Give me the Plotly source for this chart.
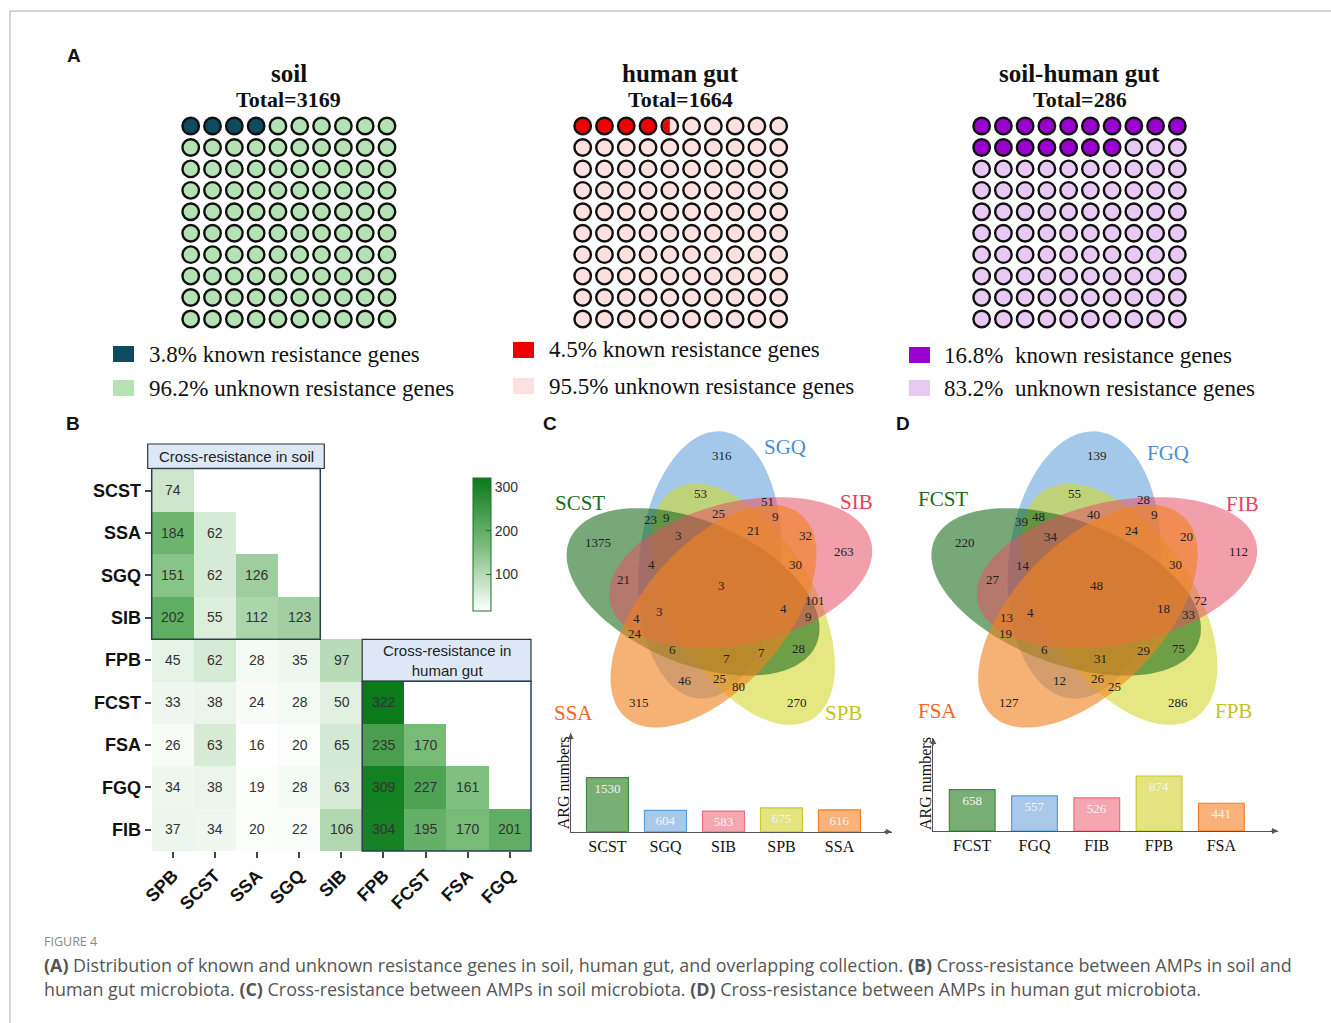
import numpy as np
import plotly.graph_objects as go

W, H = 1331, 1023

# ---------------- data ----------------
waffle_names = ["soil", "human gut", "soil-human gut"]
waffle_totals = [3169, 1664, 286]
known_pct = [3.8, 4.5, 16.8]

heat_rows = ["SCST", "SSA", "SGQ", "SIB", "FPB", "FCST", "FSA", "FGQ", "FIB"]
heat_cols = ["SPB", "SCST", "SSA", "SGQ", "SIB", "FPB", "FCST", "FSA", "FGQ"]
heat_values = [
    [74],
    [184, 62],
    [151, 62, 126],
    [202, 55, 112, 123],
    [45, 62, 28, 35, 97],
    [33, 38, 24, 28, 50, 322],
    [26, 63, 16, 20, 65, 235, 170],
    [34, 38, 19, 28, 63, 309, 227, 161],
    [37, 34, 20, 22, 106, 304, 195, 170, 201],
]

venn_soil_sets = ["SGQ", "SIB", "SPB", "SSA", "SCST"]
venn_soil_counts = [316, 53, 51, 9, 25, 23, 9, 21, 3, 32, 1375, 263, 4, 30, 21, 3,
                    101, 4, 9, 3, 4, 24, 6, 28, 7, 7, 46, 25, 80, 315, 270]
venn_gut_sets = ["FGQ", "FIB", "FPB", "FSA", "FCST"]
venn_gut_counts = [139, 55, 28, 9, 40, 39, 48, 24, 34, 20, 220, 112, 14, 30, 27, 48,
                   72, 18, 33, 4, 13, 19, 6, 75, 31, 29, 12, 26, 25, 127, 286]

bar_soil_names = ["SCST", "SGQ", "SIB", "SPB", "SSA"]
bar_soil_values = [1530, 604, 583, 675, 616]
bar_gut_names = ["FCST", "FGQ", "FIB", "FPB", "FSA"]
bar_gut_values = [658, 557, 526, 874, 441]

# ---------------- styling ----------------
SERIF = "Liberation Serif, Times New Roman, serif"
SANS = "Liberation Sans, Arial, sans-serif"
CAPTION_FONT = "Open Sans, Lato, sans-serif"

waffle_known_col = ["#0f4b5f", "#f00000", "#9a00cf"]
waffle_unknown_col = ["#b4e2b4", "#fde0e0", "#e7c9f4"]
waffle_xpx = [(179.8, 397.9), (571.8, 789.6), (970.8, 1188.2)]
waffle_ypx = (115.3, 329.7)
legend_sq_x = [113, 513, 909]
legend_sq_y = [(354, 388), (350, 386), (355, 388)]
legend_txt_x = [148, 548, 943]

# five-set Venn palette in set order: GQ, IB, PB, SA, CST
venn_fill = ["rgba(90,155,215,0.55)", "rgba(230,80,100,0.55)", "rgba(210,215,40,0.58)",
             "rgba(240,130,30,0.62)", "rgba(30,110,30,0.6)"]
venn_label_col = ["#4a8fd4", "#e8405c", "#c2c41e", "#f26522", "#1b6b1b"]
venn_draw_order = [0, 2, 4, 1, 3]
# bar colours in bar order: CST, GQ, IB, PB, SA
bar_fill = ["#79ae74", "#a9c9ea", "#f4a7b1", "#e3e47f", "#f8b27a"]
bar_line = ["#3f8a3f", "#5b9bd5", "#e8707f", "#c8ca2a", "#f07d22"]

# Venn geometry (pixels, y up, relative to the diagram centre)
VENN_O = (-1.7, -4.3)
VENN_D = 27.0
VENN_PSI0 = 112.0
VENN_TH0 = 85.0
VENN_A, VENN_B = 134.0, 71.0

# label anchors (pixel offsets from the diagram centre, y down)
venn_soil_pos = [(0, -130.7), (-21.7, -92.4), (45.6, -84.5), (53.6, -69.5), (-3.4, -72.4),
                 (-71.7, -66.4), (-55, -68.4), (31.6, -55.7), (-43.4, -50.7), (83.3, -50.7),
                 (-123.4, -43), (122.3, -34.7), (-70, -21.7), (73.3, -21.7), (-98.4, -6.7),
                 (0, 0), (93.3, 15), (61.6, 22.6), (86.6, 30.3), (-62.4, 26), (-85, 32.3),
                 (-86.7, 48), (-49, 63.3), (76.6, 62.6), (4.3, 72.6), (40, 67), (-36.7, 94.3),
                 (-2, 92.6), (17, 101), (-82.4, 117), (75.6, 117)]
venn_gut_pos = [(0, -130.7), (-22.4, -92.4), (46.3, -86), (57.6, -71), (-3.4, -71.4),
                (-75.4, -64), (-58.4, -69), (35, -55), (-45.4, -49.7), (90, -49.7),
                (-131.7, -43), (141.6, -34), (-74, -20.7), (78.3, -21.7), (-104, -6.4),
                (0, 0), (103.3, 15), (66.6, 22.6), (91.6, 28.6), (-66, 26.6), (-90, 31.6),
                (-91.7, 48), (-52.4, 63.3), (81.6, 62.6), (4, 72.6), (46.6, 65), (-37.7, 95),
                (1, 93), (18, 101), (-87.7, 117), (81.6, 117)]
venn_soil_label_xy = [(785, 446.7), (856.7, 501.7), (843.3, 713.3), (573.3, 713.3), (580, 502.7)]
venn_gut_label_xy = [(1167.7, 452.7), (1242.7, 504), (1233.3, 710.7), (937.3, 710.7), (943.3, 499.3)]


def fx(x):
    return x / W


def fy(y):
    return 1 - y / H


annotations = []
shapes = []


def note(x, y, text, size, color="#111", family=SERIF, xanchor="center",
         yanchor="middle", angle=0):
    annotations.append(dict(x=fx(x), y=fy(y), xref="paper", yref="paper", text=text,
                            showarrow=False, textangle=angle, borderpad=0,
                            font=dict(size=size, color=color, family=family),
                            xanchor=xanchor, yanchor=yanchor))


def rect(x0, y0, x1, y1, fill="rgba(0,0,0,0)", line="rgba(0,0,0,0)", width=1):
    shapes.append(dict(type="rect", xref="paper", yref="paper", x0=fx(x0), x1=fx(x1),
                       y0=fy(y1), y1=fy(y0), fillcolor=fill,
                       line=dict(color=line, width=width), layer="above"))


fig = go.Figure()
layout_axes = {}

# ---------------- A: waffle charts ----------------
for g in range(3):
    ax = g + 2
    n_half = int(round(known_pct[g] * 2))
    full, half = n_half // 2, n_half % 2
    cols = [waffle_known_col[g] if i < full else waffle_unknown_col[g] for i in range(100)]
    fig.add_trace(go.Scatter(
        x=[i % 10 for i in range(100)], y=[i // 10 for i in range(100)],
        mode="markers", xaxis=f"x{ax}", yaxis=f"y{ax}", hoverinfo="skip",
        marker=dict(size=16.5, color=cols, line=dict(color="#111", width=2.4)),
        showlegend=False))
    if half:
        t = np.linspace(np.pi / 2, 3 * np.pi / 2, 40)
        pts = [f"{7 * np.cos(a):.2f},{7 * np.sin(a):.2f}" for a in t]
        shapes.append(dict(type="path", xref=f"x{ax}", yref=f"y{ax}",
                           xsizemode="pixel", ysizemode="pixel",
                           xanchor=full % 10, yanchor=full // 10,
                           path="M" + " L".join(pts) + " Z",
                           fillcolor=waffle_known_col[g], line=dict(width=0),
                           layer="above"))
    x0, x1 = waffle_xpx[g]
    layout_axes[f"xaxis{ax}"] = dict(domain=[fx(x0), fx(x1)], range=[-0.5, 9.5],
                                     visible=False, fixedrange=True, automargin=False)
    layout_axes[f"yaxis{ax}"] = dict(domain=[fy(waffle_ypx[1]), fy(waffle_ypx[0])],
                                     range=[9.5, -0.5], visible=False, fixedrange=True,
                                     anchor=f"x{ax}", automargin=False)
    cx = (x0 + x1) / 2
    note(cx, 73, f"<b>{waffle_names[g]}</b>", 25)
    note(cx, 99, f"<b>Total={waffle_totals[g]}</b>", 22)
    sx = legend_sq_x[g]
    ky, uy = legend_sq_y[g]
    rect(sx, ky - 8, sx + 21, ky + 8, fill=waffle_known_col[g])
    rect(sx, uy - 8, sx + 21, uy + 8, fill=waffle_unknown_col[g])
    gap = "\u00a0 " if g == 2 else " "
    note(legend_txt_x[g], ky, f"{known_pct[g]}%{gap}known resistance genes", 23,
         xanchor="left")
    note(legend_txt_x[g], uy, f"{round(100 - known_pct[g], 1)}%{gap}unknown resistance genes", 23,
         xanchor="left")

# ---------------- B: cross-resistance heatmap ----------------
n = len(heat_rows)
z = [[heat_values[r][c] if c < len(heat_values[r]) else None for c in range(n)]
     for r in range(n)]
txt = [[str(v) if v is not None else "" for v in row] for row in z]
fig.add_trace(go.Heatmap(
    z=z, x=list(range(n)), y=list(range(n)), text=txt, texttemplate="%{text}",
    textfont=dict(size=14, color="#333", family=SANS), hoverinfo="skip",
    colorscale=[[0, "#ffffff"], [0.5, "#78bb78"], [1, "#0a7a1a"]],
    colorbar=dict(thickness=18, thicknessmode="pixels", len=133, lenmode="pixels",
                  x=fx(473), xanchor="left", y=fy(544.2), yanchor="middle",
                  xpad=0, ypad=0, outlinewidth=1, outlinecolor="#1f6f2a",
                  tickvals=[100, 200, 300], ticks="inside", ticklen=5,
                  tickcolor="#1f6f2a",
                  tickfont=dict(size=14, color="#333", family=SANS)),
    xaxis="x", yaxis="y"))
layout_axes["xaxis"] = dict(domain=[fx(151.7), fx(531)], range=[-0.5, n - 0.5],
                            tickvals=list(range(n)),
                            ticktext=[f"<b>{c}</b>" for c in heat_cols],
                            tickangle=-45, ticks="outside", ticklen=6, tickwidth=1.5,
                            tickcolor="#444", showgrid=False, zeroline=False,
                            showline=False, fixedrange=True, automargin=False,
                            tickfont=dict(size=18, color="#111", family=SANS))
layout_axes["yaxis"] = dict(domain=[fy(851), fy(469.3)], range=[n - 0.5, -0.5],
                            tickvals=list(range(n)),
                            ticktext=[f"<b>{r}</b>" for r in heat_rows],
                            ticks="outside", ticklen=6, tickwidth=1.5, tickcolor="#444",
                            showgrid=False, zeroline=False, showline=False,
                            fixedrange=True, automargin=False,
                            tickfont=dict(size=18, color="#111", family=SANS))
# group frames
rect(147.7, 444, 324.3, 468.5, fill="#dce8f6", line="#333", width=1.2)
note(236, 456.5, "Cross-resistance in soil", 15, color="#222", family=SANS)
rect(151.7, 468.5, 320.3, 639.3, line="#2d3e50", width=1.5)
rect(362.2, 639.3, 531, 681.3, fill="#dce8f6", line="#333", width=1.2)
note(446.6, 660.3, "Cross-resistance in<br>human gut", 15, color="#222", family=SANS)
rect(362.2, 681.3, 531, 851, line="#2d3e50", width=1.5)


# ---------------- C, D: five-set Venn diagrams ----------------
def venn(cx, cy, sx, sets, counts, pos, label_xy):
    t = np.linspace(0, 2 * np.pi, 160)
    for k in venn_draw_order:
        psi = np.radians(VENN_PSI0 - 72 * k)
        th = np.radians(VENN_TH0 - 72 * k)
        ex = VENN_O[0] + VENN_D * np.cos(psi)
        ey = VENN_O[1] + VENN_D * np.sin(psi)
        u, v = VENN_A * np.cos(t), VENN_B * np.sin(t)
        X = ex + u * np.cos(th) - v * np.sin(th)
        Y = ey + u * np.sin(th) + v * np.cos(th)
        xs, ys = fx(cx + sx * X), fy(cy - Y)
        path = "M" + " L".join(f"{a:.5f},{b:.5f}" for a, b in zip(xs, ys)) + " Z"
        shapes.append(dict(type="path", xref="paper", yref="paper", path=path,
                           fillcolor=venn_fill[k], line=dict(width=0), layer="below"))
    for val, (dx, dy) in zip(counts, pos):
        note(cx + dx, cy + dy, str(val), 13, color="#222")
    for k, name in enumerate(sets):
        note(label_xy[k][0], label_xy[k][1], name, 21, color=venn_label_col[k])


venn(721.7, 585.7, 1.0, venn_soil_sets, venn_soil_counts, venn_soil_pos, venn_soil_label_xy)
venn(1096.7, 585.7, 1.066, venn_gut_sets, venn_gut_counts, venn_gut_pos, venn_gut_label_xy)


# ---------------- bar charts under the Venn diagrams ----------------
def bars(ax, names, values, xpx, ypx, xr, ymax, width, ylab_x):
    fig.add_trace(go.Bar(
        x=list(range(len(names))), y=values, width=width, xaxis=f"x{ax}", yaxis=f"y{ax}",
        marker=dict(color=bar_fill, line=dict(color=bar_line, width=1.2)),
        text=[str(v) for v in values], textposition="inside", insidetextanchor="end",
        constraintext="none", textangle=0,
        textfont=dict(size=13, color="#f4f4f4", family=SERIF),
        hoverinfo="skip", showlegend=False))
    layout_axes[f"xaxis{ax}"] = dict(domain=[fx(xpx[0]), fx(xpx[1])], range=xr,
                                     anchor=f"y{ax}", tickvals=list(range(len(names))),
                                     ticktext=names, ticks="", showgrid=False,
                                     zeroline=False, showline=True, linecolor="#555",
                                     linewidth=1.2, fixedrange=True, automargin=False,
                                     tickfont=dict(size=16, color="#111", family=SERIF))
    layout_axes[f"yaxis{ax}"] = dict(domain=[fy(ypx[0]), fy(ypx[1])], range=[0, ymax],
                                     anchor=f"x{ax}", showticklabels=False, ticks="",
                                     showgrid=False, zeroline=False, showline=True,
                                     linecolor="#555", linewidth=1.2, fixedrange=True,
                                     automargin=False)
    for (x, y, axo, ayo) in [(xpx[1], ypx[0], -9, 0), (xpx[0], ypx[1], 0, 9)]:
        annotations.append(dict(x=fx(x), y=fy(y), xref="paper", yref="paper", text="",
                                showarrow=True, arrowhead=2, arrowsize=1, arrowwidth=1.2,
                                arrowcolor="#555", ax=axo, ay=ayo, standoff=0))
    note(ylab_x, 783, "ARG numbers", 16, angle=-90)


bars(5, bar_soil_names, bar_soil_values, (570.7, 891.7), (831.7, 733), [-0.634, 4.9],
     2796, 0.724, 563.3)
bars(6, bar_gut_names, bar_gut_values, (933.3, 1278), (831, 738), [-0.625, 4.91],
     1478, 0.734, 925)

# ---------------- panel letters, caption, frame ----------------
for letter, (x, y) in zip("ABCD", [(74, 56), (73, 423), (550, 423), (903, 423)]):
    note(x, y, f"<b>{letter}</b>", 19, family=SANS)

note(43, 941, "FIGURE 4", 12.5, color="#888", family=CAPTION_FONT, xanchor="left")
note(43, 965, "<b>(A)</b> Distribution of known and unknown resistance genes in soil, human gut, "
     "and overlapping collection. <b>(B)</b> Cross-resistance between AMPs in soil and",
     17.9, color="#555", family=CAPTION_FONT, xanchor="left")
note(43, 989, "human gut microbiota. <b>(C)</b> Cross-resistance between AMPs in soil "
     "microbiota. <b>(D)</b> Cross-resistance between AMPs in human gut microbiota.",
     17.9, color="#555", family=CAPTION_FONT, xanchor="left")

shapes.append(dict(type="line", xref="paper", yref="paper", x0=fx(10), x1=1,
                   y0=fy(11), y1=fy(11), line=dict(color="#aaa", width=1)))
shapes.append(dict(type="line", xref="paper", yref="paper", x0=fx(10), x1=fx(10),
                   y0=fy(11), y1=0, line=dict(color="#aaa", width=1)))

fig.update_layout(
    width=W, height=H, autosize=False,
    margin=dict(l=0, r=0, t=0, b=0, pad=0, autoexpand=False),
    paper_bgcolor="white", plot_bgcolor="rgba(0,0,0,0)",
    showlegend=False, annotations=annotations, shapes=shapes,
    **layout_axes)

fig.write_html("out.html", config={"displayModeBar": False, "responsive": False})
